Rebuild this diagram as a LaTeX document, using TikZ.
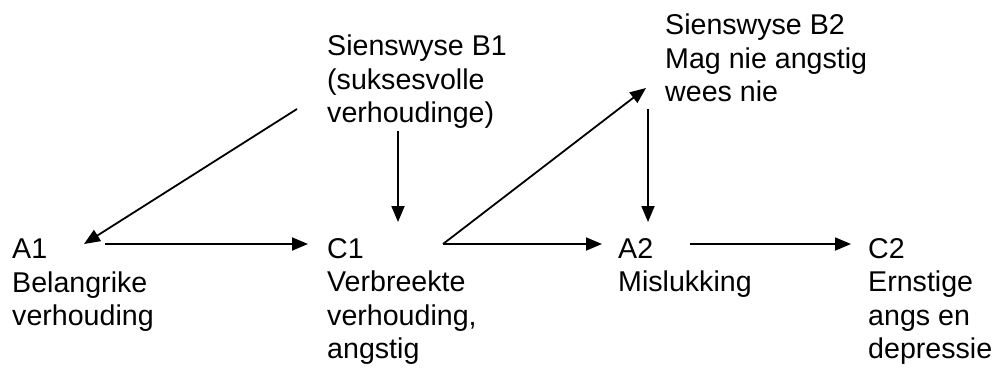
\documentclass[tikz,border=0pt]{standalone}
\usepackage{fontspec}
\setmainfont{Liberation Sans}
\usetikzlibrary{arrows.meta}
\begin{document}
\begin{tikzpicture}[x=1pt,y=-1pt,
  lbl/.style={anchor=north west,inner sep=0pt,align=left,
    font=\fontsize{28.6}{33.5}\selectfont},
  link/.style={line width=1.8pt,-{Triangle[length=16pt,width=13pt]}}]
\useasboundingbox (0,0) rectangle (1000,368);
% text blocks
\node[lbl] (a1) at (12,239) {A1\\Belangrike\\verhouding};
\node[lbl] (b1) at (327,35) {Sienswyse B1\\(suksesvolle\\verhoudinge)};
\node[lbl] (c1) at (327,238) {C1\\Verbreekte\\verhouding,\\angstig};
\node[lbl] (b2) at (665,14) {Sienswyse B2\\Mag nie angstig\\wees nie};
\node[lbl] (a2) at (618,238) {A2\\Mislukking};
\node[lbl] (c2) at (868,238) {C2\\Ernstige\\angs en\\depressie};
% connector end points
\coordinate (b1out) at (297,109);
\coordinate (b1down) at (398,131);
\coordinate (a1in) at (84,244);
\coordinate (a1out) at (105,244);
\coordinate (c1in) at (308,244);
\coordinate (c1top) at (398,222);
\coordinate (c1out) at (443,244);
\coordinate (a2in) at (602,244);
\coordinate (b2in) at (646,88);
\coordinate (b2down) at (648,109);
\coordinate (a2top) at (648,222);
\coordinate (a2out) at (690,244);
\coordinate (c2in) at (851,244);
% connectors
\draw[link] (b1out) -- (a1in);
\draw[link] (a1out) -- (c1in);
\draw[link] (b1down) -- (c1top);
\draw[link] (c1out) -- (b2in);
\draw[link] (c1out) -- (a2in);
\draw[link] (b2down) -- (a2top);
\draw[link] (a2out) -- (c2in);
\end{tikzpicture}
\end{document}
